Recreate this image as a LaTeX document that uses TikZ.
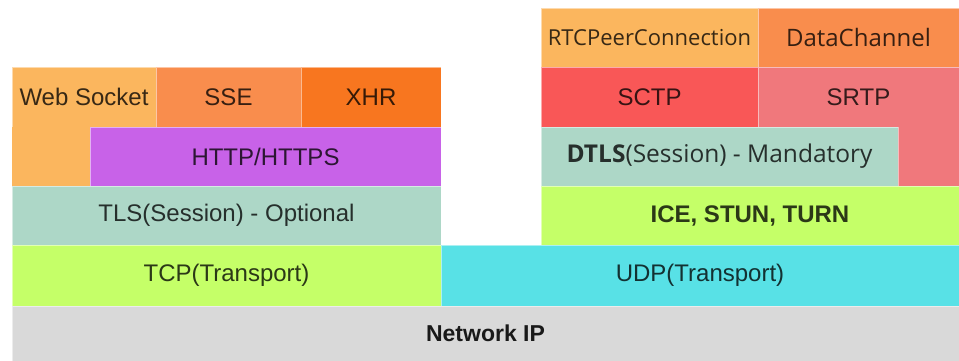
\documentclass[tikz,border=0pt]{standalone}
\usepackage{fontspec}
\setmainfont{Liberation Sans}
\newfontfamily\osans{Open Sans}

% layer fills
\definecolor{cWS}{HTML}{FBB65E}
\definecolor{cSSE}{HTML}{F98D4D}
\definecolor{cXHR}{HTML}{F8761F}
\definecolor{cHTTP}{HTML}{C862E8}
\definecolor{cTLS}{HTML}{ADD7C7}
\definecolor{cTCP}{HTML}{C5FF68}
\definecolor{cUDP}{HTML}{58E1E6}
\definecolor{cNET}{HTML}{D9D9D9}
\definecolor{cSCTP}{HTML}{F95757}
\definecolor{cSRTP}{HTML}{F0787C}

\begin{document}
\begin{tikzpicture}[x=1pt,y=-1pt,
  layer/.style={rectangle, anchor=north west, inner sep=0pt, outer sep=0pt,
    draw=white, draw opacity=0.5, line width=0.4pt, fill=#1, text=#1!22!black,
    font=\fontsize{24}{28}\selectfont},
  layerO/.style={layer=#1, font=\osans\fontsize{24}{28}\selectfont}]

\useasboundingbox (0,0) rectangle (959,361);

% ---- web stack (left) ----
\node[layer=cWS, minimum width=144pt, minimum height=60pt] (ws) at (12,67) {Web Socket};
\node[layer=cSSE, minimum width=145pt, minimum height=60pt] (sse) at (156,67) {SSE};
\node[layer=cXHR, minimum width=140pt, minimum height=60pt] (xhr) at (301,67) {XHR};
\node[layer=cHTTP, minimum width=351pt, minimum height=59pt] (http) at (90,127) {HTTP/HTTPS};
% lower leg of the Web Socket block
\fill[cWS] (12,126.5) rectangle (89.8,186);
\node[layer=cTLS, minimum width=429pt, minimum height=59pt] (tls) at (12,186) {TLS(Session) - Optional};
\node[layer=cTCP, minimum width=429pt, minimum height=61pt] (tcp) at (12,245) {TCP(Transport)};

% ---- WebRTC stack (right) ----
\node[layerO=cWS, minimum width=217pt, minimum height=59pt, font=\osans\fontsize{22}{26}\selectfont] (rtc) at (541,8) {RTCPeerConnection};
\node[layerO=cSSE, minimum width=201pt, minimum height=59pt] (dc) at (758,8) {DataChannel};
\node[layer=cSCTP, minimum width=217pt, minimum height=60pt] (sctp) at (541,67) {SCTP};
\node[layer=cSRTP, minimum width=201pt, minimum height=60pt] (srtp) at (758,67) {SRTP};
% lower leg of the SRTP block
\fill[cSRTP] (898.2,126.5) rectangle (959,186);
\node[layerO=cTLS, minimum width=357pt, minimum height=59pt, font=\osans\fontsize{24.5}{28}\selectfont] (dtls) at (541,127) {\textbf{DTLS}(Session) - Mandatory};
\node[layer=cTCP, minimum width=418pt, minimum height=59pt, font=\bfseries\fontsize{24}{28}\selectfont] (ice) at (541,186) {ICE, STUN, TURN};
\node[layer=cUDP, minimum width=518pt, minimum height=61pt] (udp) at (441,245) {UDP(Transport)};

% ---- shared network layer ----
\node[layer=cNET, minimum width=947pt, minimum height=55pt, text=black!90, font=\bfseries\fontsize{23}{28}\selectfont] (net) at (12,306) {Network IP};
\end{tikzpicture}
\end{document}
